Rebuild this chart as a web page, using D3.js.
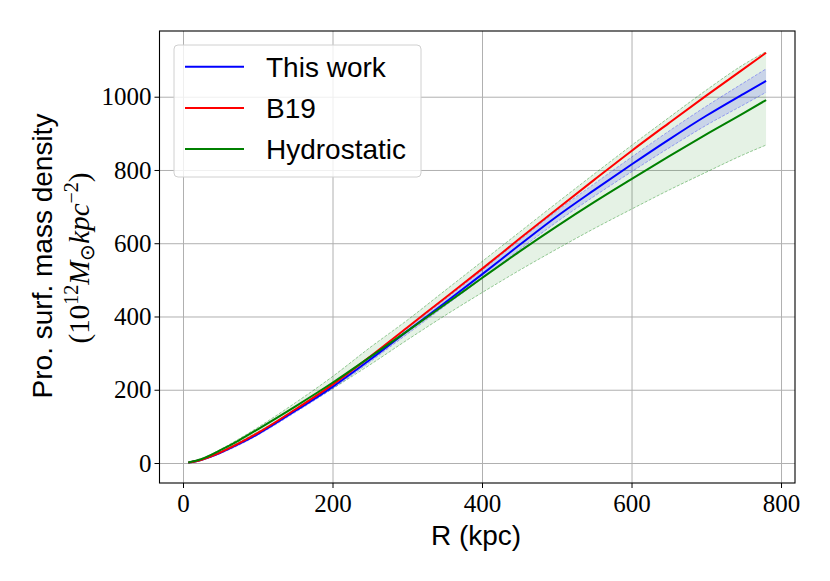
<!DOCTYPE html>
<html>
<head>
<meta charset="utf-8">
<script src="https://cdn.jsdelivr.net/npm/d3@7"></script>
<style>
  body { margin: 0; background: #fff; }
  svg { display: block; }
</style>
</head>
<body>
<div id="chart"></div>
<script>
// radius values (kpc)
let radius = [7, 25, 50, 75, 100, 150, 200, 250, 300, 350, 400, 450, 500, 550, 600, 650, 700, 750, 780];

// this work + its band
let thisWork = [1, 9, 28, 52, 79, 142, 208, 282, 360, 437, 515, 595, 673, 745, 815, 883, 948, 1008, 1043];
let thisWorkHi = [1.5, 10, 30, 55, 82, 146, 213, 288, 368, 446, 526, 608, 688, 762, 835, 906, 974, 1038, 1076];
let thisWorkLo = [0.5, 8, 26, 49, 76, 138, 203, 276, 352, 428, 504, 582, 658, 728, 795, 860, 922, 978, 1012];

// B19
let b19 = [1, 9, 29, 54, 82, 146, 214, 290, 370, 450, 530, 612, 693, 773, 852, 928, 1003, 1076, 1120];

// hydrostatic + its band
let hydro = [1.5, 11, 35, 62, 92, 154, 219, 289, 360, 432, 505, 577, 646, 712, 775, 837, 897, 955, 991];
let hydroHi = [2, 12, 37, 66, 97, 164, 236, 315, 390, 470, 550, 630, 710, 789, 867, 943, 1018, 1088, 1123];
let hydroLo = [1, 10, 32, 57, 85, 143, 203, 268, 336, 402, 465, 526, 584, 640, 693, 745, 794, 842, 868];

let xTicks = [0, 200, 400, 600, 800];
let yTicks = [0, 200, 400, 600, 800, 1000];

let svgWidth = 830;
let svgHeight = 581;
let margin = { top: 31, right: 35, bottom: 98, left: 159.5 };
let width = svgWidth - margin.left - margin.right;
let height = svgHeight - margin.top - margin.bottom;

let svg = d3.select('#chart')
    .append('svg')
    .attr('width', svgWidth)
    .attr('height', svgHeight);

let chartgroup = svg.append('g')
    .attr('transform', `translate(${margin.left},${margin.top})`);

let xScale = d3.scaleLinear().domain([-31.44, 818.7]).range([0, width]);
let yScale = d3.scaleLinear().domain([-54.6, 1179.4]).range([height, 0]);

// grid
chartgroup.append('g')
    .attr('transform', `translate(0,${height})`)
    .call(d3.axisBottom(xScale).tickValues(xTicks).tickSize(-height).tickFormat(''))
    .call(g => g.select('.domain').remove())
    .selectAll('line').attr('stroke', '#b0b0b0').attr('stroke-width', 1);
chartgroup.append('g')
    .call(d3.axisLeft(yScale).tickValues(yTicks).tickSize(-width).tickFormat(''))
    .call(g => g.select('.domain').remove())
    .selectAll('line').attr('stroke', '#b0b0b0').attr('stroke-width', 1);

let idx = d3.range(radius.length);

function band(lo, hi) {
    return d3.area()
        .x(i => xScale(radius[i]))
        .y0(i => yScale(lo[i]))
        .y1(i => yScale(hi[i]))
        .curve(d3.curveMonotoneX)(idx);
}
function line(vals) {
    return d3.line()
        .x(i => xScale(radius[i]))
        .y(i => yScale(vals[i]))
        .curve(d3.curveMonotoneX)(idx);
}

// hydrostatic band
chartgroup.append('path')
    .attr('d', band(hydroLo, hydroHi))
    .attr('fill', 'green').attr('fill-opacity', 0.1);
[hydroLo, hydroHi].forEach(v => {
    chartgroup.append('path').attr('d', line(v))
        .attr('fill', 'none').attr('stroke', 'green').attr('stroke-opacity', 0.5)
        .attr('stroke-width', 0.8).attr('stroke-dasharray', '3,1.5');
});

// this work band
chartgroup.append('path')
    .attr('d', band(thisWorkLo, thisWorkHi))
    .attr('fill', 'blue').attr('fill-opacity', 0.12);
[thisWorkLo, thisWorkHi].forEach(v => {
    chartgroup.append('path').attr('d', line(v))
        .attr('fill', 'none').attr('stroke', 'blue').attr('stroke-opacity', 0.4)
        .attr('stroke-width', 0.8).attr('stroke-dasharray', '3,1.5');
});

// main curves
let series = [
    { name: 'This work', vals: thisWork, color: '#0000ff' },
    { name: 'B19', vals: b19, color: '#ff0000' },
    { name: 'Hydrostatic', vals: hydro, color: '#008000' }
];
series.forEach(s => {
    chartgroup.append('path').attr('d', line(s.vals))
        .attr('fill', 'none').attr('stroke', s.color).attr('stroke-width', 2);
});

// axes
let xAxis = chartgroup.append('g')
    .attr('transform', `translate(0,${height})`)
    .call(d3.axisBottom(xScale).tickValues(xTicks).tickFormat(d3.format('d'))
        .tickSize(5).tickPadding(6).tickSizeOuter(0));
let yAxis = chartgroup.append('g')
    .call(d3.axisLeft(yScale).tickValues(yTicks).tickFormat(d3.format('d'))
        .tickSize(5).tickPadding(3).tickSizeOuter(0));
[xAxis, yAxis].forEach(a => {
    a.selectAll('.domain').remove();
    a.selectAll('line').attr('stroke', '#000').attr('stroke-width', 1);
    a.selectAll('text')
        .attr('fill', '#000')
        .style('font-family', '"Liberation Serif", serif')
        .style('font-size', '25px');
});
xAxis.selectAll('text').attr('dy', '0.71em');
yAxis.selectAll('text').attr('dy', '0.33em');

// frame
chartgroup.append('rect')
    .attr('width', width).attr('height', height)
    .attr('fill', 'none').attr('stroke', '#000').attr('stroke-width', 1.1);

// axis labels
svg.append('text')
    .attr('x', margin.left + xScale(400) - 6)
    .attr('y', 545)
    .attr('text-anchor', 'middle')
    .style('font-family', '"Liberation Sans", Arial, sans-serif')
    .style('font-size', '28px')
    .text('R (kpc)');

svg.append('text')
    .attr('transform', 'translate(52,256) rotate(-90)')
    .attr('text-anchor', 'middle')
    .style('font-family', '"Liberation Sans", Arial, sans-serif')
    .style('font-size', '28px')
    .text('Pro. surf. mass density');

let unit = svg.append('text')
    .attr('transform', 'translate(89,258) rotate(-90)')
    .attr('text-anchor', 'middle')
    .style('font-family', '"Liberation Serif", serif')
    .style('font-size', '29px');
unit.append('tspan').text('(10');
unit.append('tspan').attr('dy', -11).style('font-size', '20px').text('12');
unit.append('tspan').attr('dy', 11).style('font-style', 'italic').text('M');
unit.append('tspan').attr('dy', 5).style('font-size', '20px').text('⊙');
unit.append('tspan').attr('dy', -5).style('font-style', 'italic').text('kpc');
unit.append('tspan').attr('dy', -11).style('font-size', '20px').text('−2');
unit.append('tspan').attr('dy', 11).text(')');

// legend
let legend = svg.append('g').attr('transform', 'translate(174,45)');
legend.append('rect')
    .attr('width', 247).attr('height', 132).attr('rx', 4)
    .attr('fill', '#fff').attr('fill-opacity', 0.8)
    .attr('stroke', '#d0d0d0').attr('stroke-width', 1);
series.forEach((s, i) => {
    let ly = 21.7 + i * 41.2;
    legend.append('line')
        .attr('x1', 11).attr('x2', 70).attr('y1', ly).attr('y2', ly)
        .attr('stroke', s.color).attr('stroke-width', 2);
    legend.append('text')
        .attr('x', 92).attr('y', ly + 10)
        .style('font-family', '"Liberation Sans", Arial, sans-serif')
        .style('font-size', '28px')
        .text(s.name);
});
</script>
</body>
</html>
